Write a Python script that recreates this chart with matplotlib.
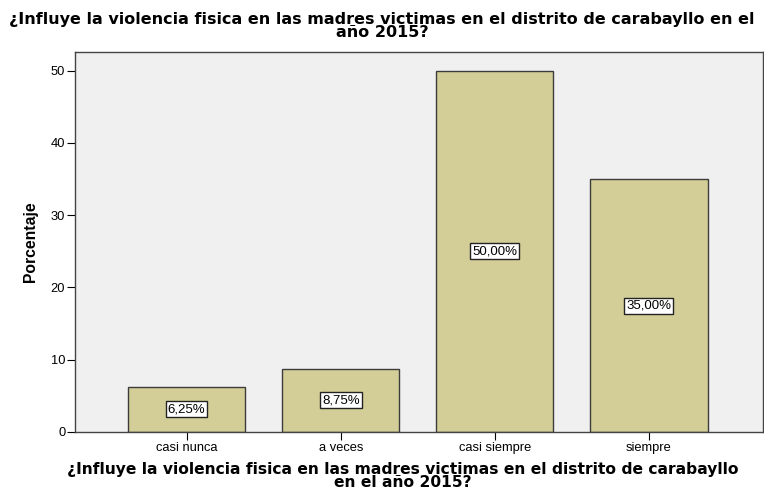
import numpy as np
import matplotlib.pyplot as plt

plt.rcParams['font.family'] = ['Liberation Sans', 'DejaVu Sans']

# Data
categorias = ['casi nunca', 'a veces', 'casi siempre', 'siempre']
porcentajes = [6.25, 8.75, 50.00, 35.00]
etiquetas = ['6,25%', '8,75%', '50,00%', '35,00%']
titulo = '¿Influye la violencia fisica en las madres victimas en el distrito de carabayllo en el\naño 2015?'
titulo_x = '¿Influye la violencia fisica en las madres victimas en el distrito de carabayllo\nen el año 2015?'

fig = plt.figure(figsize=(7.64, 4.91), dpi=100)
ax = fig.add_axes([0.0982, 0.1202, 0.9005, 0.774])
ax.set_facecolor('#f0f0f0')

x = np.arange(len(categorias))
bars = ax.bar(x, porcentajes, width=0.76, color='#d3ce97', edgecolor='#3c3c3c', linewidth=1.0)

for xi, v, lab in zip(x, porcentajes, etiquetas):
    ax.text(xi, v / 2, lab, ha='center', va='center', fontsize=9.5,
            bbox=dict(boxstyle='square,pad=0.15', facecolor='white', edgecolor='#222222', linewidth=1.0))

ax.set_xlim(-0.724, 3.74)
ax.set_ylim(0, 52.6)
ax.set_yticks([0, 10, 20, 30, 40, 50])
ax.set_xticks(x)
ax.set_xticklabels(categorias, fontsize=9.3)
ax.tick_params(axis='y', labelsize=9.3, length=6, width=0.8, pad=1)
ax.tick_params(axis='x', length=6, width=0.8, pad=1)

for s in ax.spines.values():
    s.set_color('#444444')
    s.set_linewidth(1.0)

ax.set_ylabel('Porcentaje', fontsize=11.3, fontweight='bold', labelpad=9)
ax.set_xlabel(titulo_x, fontsize=11.2, fontweight='bold', linespacing=0.85,
              family='DejaVu Sans')
ax.xaxis.set_label_coords(0.477, -0.079)
fig.suptitle(titulo, fontsize=11.5, fontweight='bold', y=0.976, linespacing=0.85,
             family='DejaVu Sans')

fig.savefig('out.png', dpi=100)
